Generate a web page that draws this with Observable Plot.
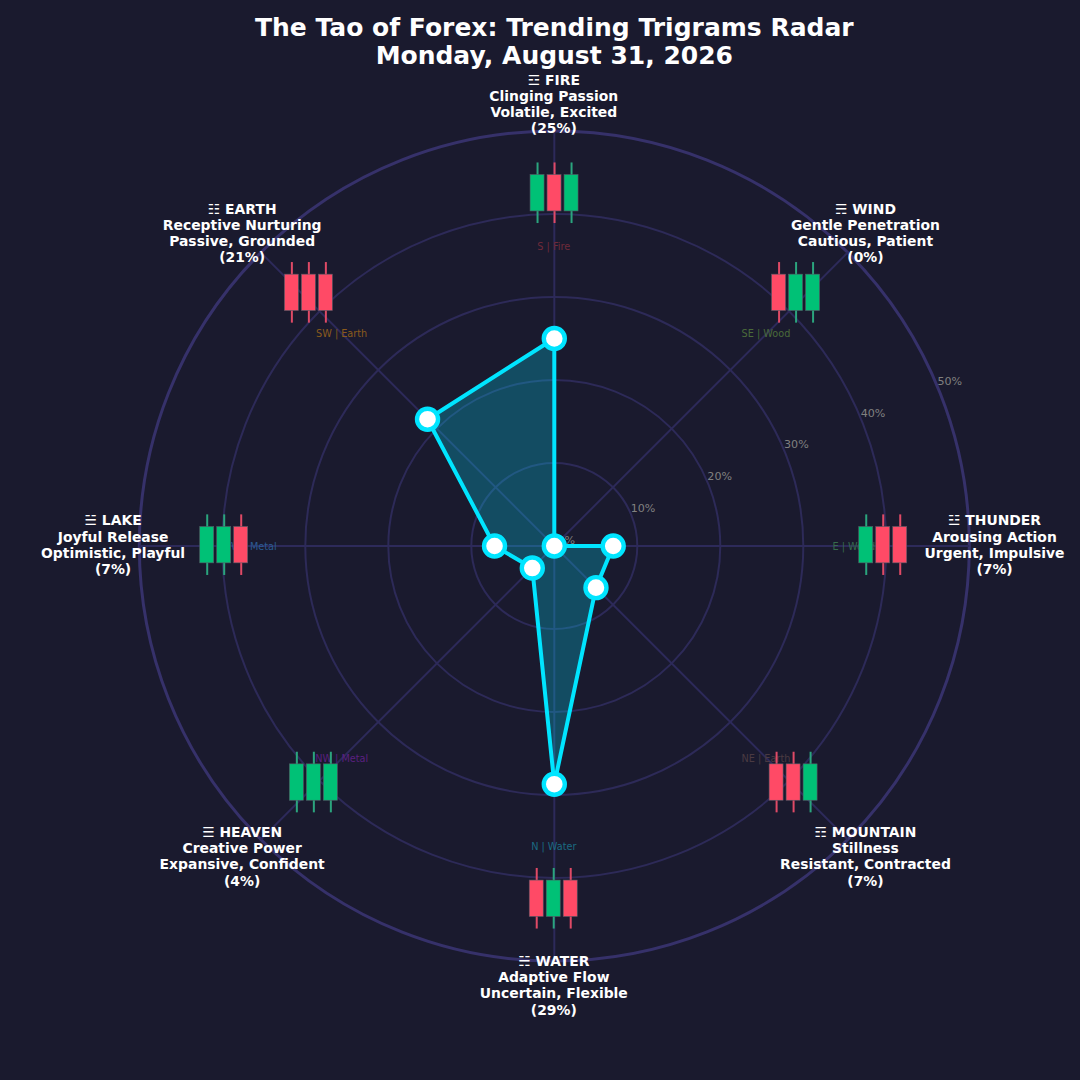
<!DOCTYPE html>
<html>
<head>
<meta charset="utf-8">
<script src="https://cdn.jsdelivr.net/npm/d3@7"></script>
<script src="https://cdn.jsdelivr.net/npm/@observablehq/plot@0.6"></script>
<style>
html,body{margin:0;padding:0;background:#1a1a2e;}
svg{display:block;}
</style>
</head>
<body>
<div id="chart"></div>
<script>
const titleText = "The Tao of Forex: Trending Trigrams Radar\nMonday, August 31, 2026";
const glyphs = ["☲","☴","☳","☶","☵","☰","☱","☷"];
const names = ["FIRE","WIND","THUNDER","MOUNTAIN","WATER","HEAVEN","LAKE","EARTH"];
const qualities = ["Clinging Passion","Gentle Penetration","Arousing Action","Stillness","Adaptive Flow","Creative Power","Joyful Release","Receptive Nurturing"];
const moods = ["Volatile, Excited","Cautious, Patient","Urgent, Impulsive","Resistant, Contracted","Uncertain, Flexible","Expansive, Confident","Optimistic, Playful","Passive, Grounded"];
const shares = [25, 0, 7, 7, 29, 4, 7, 21];
const plotted = [25, 0, 7.1, 7.1, 28.7, 3.75, 7.2, 21.6];
const directions = ["S | Fire","SE | Wood","E | Wood","NE | Earth","N | Water","NW | Metal","W | Metal","SW | Earth"];
const dirColors = ["#6f2a3a","#4a6b3a","#366b4c","#4a3a42","#1a6a82","#5a2080","#2a5a92","#8a5a1c"];
const candles = [
  ["up","down","up"],["down","up","up"],["up","down","down"],["down","down","up"],
  ["down","up","down"],["up","up","up"],["up","up","down"],["down","down","down"]
];
const ringTicks = [10,20,30,40,50];
const spokeEnd = 50;

// layout (in radial percent units)
const K = 8.3, CX = 553.8, CY = 545.5;
const candleX = [0.03,29.13,39.63,28.83,-0.07,-28.97,-39.77,-29.57];
const candleY = [42.5,30.5,0.1,-28.5,-42.5,-28.5,0.1,30.5];
const bodyHalfW = 7/K, bodyHalfH = 18.2/K, wickHalfH = 30.3/K, candleStep = 17/K;

const rad = i => i * Math.PI / 4;
const polar = (i, r) => ({x: r * Math.sin(rad(i)), y: r * Math.cos(rad(i))});

const axes = names.map((_, i) => i);
const spokes = axes.map(i => ({x1:0, y1:0, x2:polar(i,spokeEnd).x, y2:polar(i,spokeEnd).y}));
const poly = plotted.concat(plotted[0]).map((v,i) => polar(i,v));
const points = plotted.map((v,i) => polar(i,v));
const labels = axes.map(i => ({...polar(i,53.1), text:`${glyphs[i]} ${names[i]}\n${qualities[i]}\n${moods[i]}\n(${shares[i]}%)`}));
const dirLabels = axes.map(i => ({...polar(i,36.15), text:directions[i], color:dirColors[i]}));
const tickAngle = 67.5 * Math.PI / 180;
const tickLabels = [0].concat(ringTicks).map(v => {
  const r = v + 13/K;
  return {x:r*Math.sin(tickAngle), y:r*Math.cos(tickAngle), text:`${v}%`};
});
const candleRows = candles.flatMap((group,i) => group.map((dir,j) => ({
  cx: candleX[i] + (j-1)*candleStep, cy: candleY[i], dir
})));
const candleColor = {up:"#00c176", down:"#ff4a66"};
const wickColor = {up:"#2ba57e", down:"#e04a66"};

const xDomain = [-CX/K, (1080-CX)/K];
const yDomain = [(CY-1080)/K, CY/K];
const font = "DejaVu Sans";

const chart = Plot.plot({
  width:1080, height:1080, margin:0,
  style:{background:"#1a1a2e"},
  x:{domain:xDomain, range:[0,1080], axis:null},
  y:{domain:yDomain, range:[1080,0], axis:null},
  r:{type:"linear", domain:[0,50], range:[0,415]},
  marks:[
    Plot.dot(ringTicks.filter(v=>v<50), {x:()=>0, y:()=>0, r:v=>v, stroke:"#2d2a58", strokeWidth:2, fill:"none"}),
    Plot.dot([50], {x:()=>0, y:()=>0, r:v=>v, stroke:"#36316a", strokeWidth:3, fill:"none"}),
    Plot.link(spokes, {x1:"x1", y1:"y1", x2:"x2", y2:"y2", stroke:"#2d2a5a", strokeWidth:2}),
    Plot.text(tickLabels, {x:"x", y:"y", text:"text", fill:"#808080", fontSize:11.1, fontFamily:font, dy:-1}),
    Plot.text(dirLabels, {x:"x", y:"y", text:"text", fill:"color", fontSize:9.7, fontFamily:font, dy:0.5, dx:-0.5}),
    Plot.line(poly, {x:"x", y:"y", fill:"#00e5ff", fillOpacity:0.25, stroke:"none"}),
    Plot.line(poly, {x:"x", y:"y", stroke:"#00e5ff", strokeWidth:4, strokeLinejoin:"round", curve:"linear"}),
    Plot.dot(points, {x:"x", y:"y", r:10.5, fill:"#ffffff", stroke:"#00e5ff", strokeWidth:4.4}),
    Plot.ruleX(candleRows, {x:"cx", y1:d=>d.cy-wickHalfH, y2:d=>d.cy+wickHalfH, stroke:d=>wickColor[d.dir], strokeWidth:2}),
    Plot.rect(candleRows, {x1:d=>d.cx-bodyHalfW, x2:d=>d.cx+bodyHalfW, y1:d=>d.cy-bodyHalfH, y2:d=>d.cy+bodyHalfH, fill:d=>candleColor[d.dir], stroke:"#555a66", strokeWidth:0.6, inset:0}),
    Plot.text(labels, {x:"x", y:"y", text:"text", fill:"#ffffff", fontSize:13.9, fontWeight:"bold", fontFamily:font, lineHeight:1.165, dy:-1.5, dx:-0.5}),
    Plot.text([titleText], {x:()=>0, y:()=>(CY-40.5)/K, text:d=>d, fill:"#ffffff", fontSize:25, fontWeight:"bold", fontFamily:font, lineHeight:1.12})
  ]
});
document.getElementById("chart").append(chart);
</script>
</body>
</html>
